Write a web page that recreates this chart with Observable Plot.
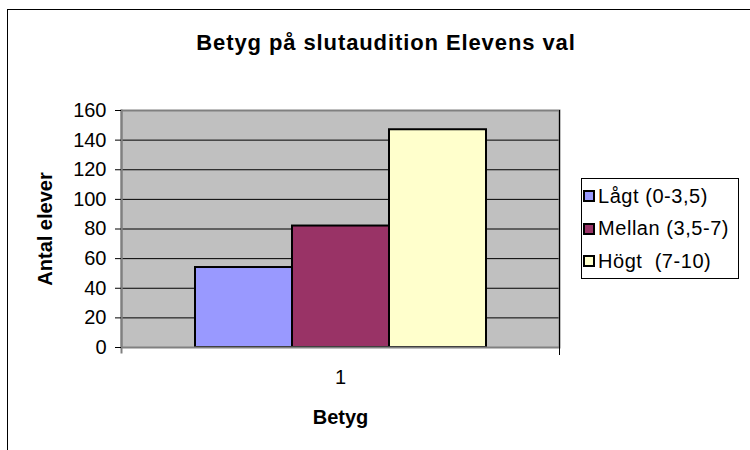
<!DOCTYPE html>
<html>
<head>
<meta charset="utf-8">
<script src="https://cdn.jsdelivr.net/npm/d3@7"></script>
<script src="https://cdn.jsdelivr.net/npm/@observablehq/plot@0.6"></script>
<style>
  html, body { margin: 0; padding: 0; background: #fff; }
  #wrap { position: relative; width: 750px; height: 450px; overflow: hidden; font-family: "Liberation Sans", Arial, sans-serif; }
  #wrap svg { position: absolute; left: 0; top: 0; }
  #border { position: absolute; left: 7px; top: 9px; width: 800px; height: 500px; border: 1.5px solid #000; box-sizing: border-box; }
  #title { position: absolute; left: 136px; width: 500px; top: 30px; text-align: center; font-weight: bold; font-size: 22px; letter-spacing: 0.9px; white-space: nowrap; }
  #legend { position: absolute; left: 581px; top: 178px; width: 158px; height: 101px; border: 1px solid #000; box-sizing: border-box; background: #fff; }
  .row { position: absolute; left: 1px; height: 22px; display: flex; align-items: center; font-size: 20px; letter-spacing: 0.55px; white-space: nowrap; }
  .sw { width: 8px; height: 8px; border: 2px solid #000; margin-right: 3px; }
  [aria-label="y-axis label"], [aria-label="fx-axis label"] { font-weight: bold; }
</style>
</head>
<body>
<div id="wrap">
  <div id="border"></div>
  <div id="title"></div>
  <div id="legend"></div>
</div>
<script>
const titleText = "Betyg på slutaudition Elevens val";
const categories = ["1"];
const series = ["Lågt (0-3,5)", "Mellan (3,5-7)", "Högt  (7-10)"];
const values = [54, 82, 147];
const colors = ["#9999FF", "#993366", "#FFFFCC"];
const yTicks = [0, 20, 40, 60, 80, 100, 120, 140, 160];
const xLabel = "Betyg";
const yLabel = "Antal elever";

const data = series.map((s, i) => ({category: categories[0], series: s, value: values[i]}));

const chart = Plot.plot({
  width: 750,
  height: 450,
  marginLeft: 121,
  marginRight: 191,
  marginTop: 110,
  marginBottom: 103,
  style: {fontFamily: "'Liberation Sans', Arial, sans-serif", fontSize: "20px", color: "#000", background: "transparent", overflow: "visible"},
  fx: {domain: categories, padding: 0},
  x: {domain: series, paddingInner: 0, paddingOuter: 0.75, axis: null},
  y: {domain: [0, 160]},
  color: {domain: series, range: colors},
  marks: [
    Plot.frame({fill: "#C0C0C0"}),
    Plot.ruleY(yTicks.slice(1), {stroke: "#000", strokeWidth: 1}),
    Plot.barY(data, {fx: "category", x: "series", y: "value", fill: "series", stroke: "#000", strokeWidth: 2}),
    Plot.frame({stroke: "#808080", strokeWidth: 2}),
    Plot.frame({anchor: "left", stroke: "#808080", strokeWidth: 2, insetBottom: -5}),
    Plot.frame({anchor: "right", stroke: "#000", strokeWidth: 1, insetBottom: -7}),
    Plot.axisY({ticks: yTicks, tickSize: 6, tickPadding: 9, label: yLabel, labelAnchor: "center", labelArrow: "none", labelOffset: 84}),
    Plot.axisFx({anchor: "bottom", tickSize: 0, tickPadding: 22, label: xLabel, labelAnchor: "center", labelArrow: "none", labelOffset: 76})
  ]
});
document.getElementById("wrap").appendChild(chart);
document.getElementById("title").textContent = titleText;

const legend = document.getElementById("legend");
series.forEach((s, i) => {
  const row = document.createElement("div");
  row.className = "row";
  row.style.top = (6 + i * 32.5) + "px";
  const sw = document.createElement("div");
  sw.className = "sw";
  sw.style.background = colors[i];
  const t = document.createElement("span");
  t.textContent = s;
  t.style.whiteSpace = "pre";
  row.appendChild(sw);
  row.appendChild(t);
  legend.appendChild(row);
});
</script>
</body>
</html>
